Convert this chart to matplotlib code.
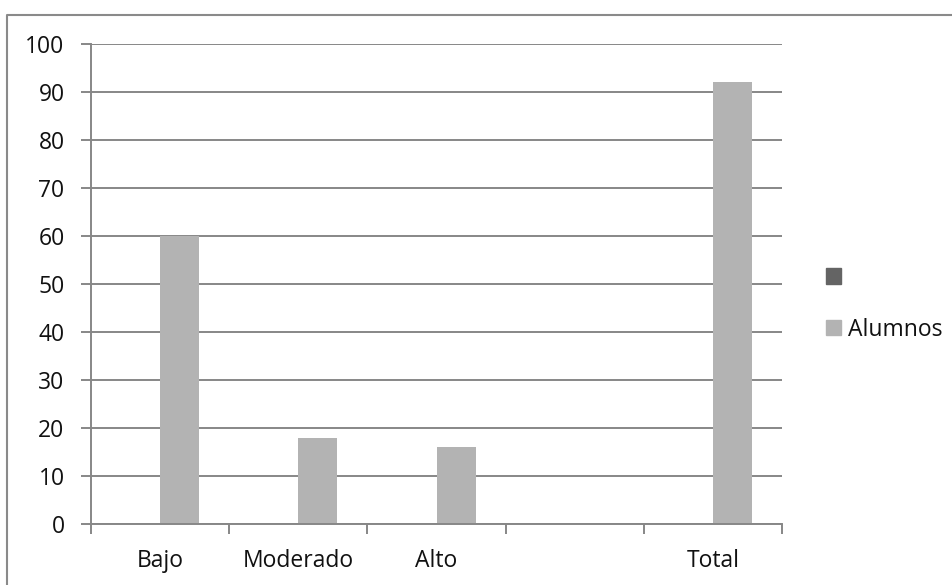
import matplotlib
matplotlib.use("Agg")
import matplotlib.pyplot as plt
import numpy as np
from matplotlib.patches import Patch
from matplotlib.lines import Line2D

plt.rcParams['font.family'] = ['Open Sans', 'DejaVu Sans']

categories = ["Bajo", "Moderado", "Alto", "", "Total"]
serie_vacia = [np.nan, np.nan, np.nan, np.nan, np.nan]
alumnos = [60, 18, 16, np.nan, 92]
y_ticks = [0, 10, 20, 30, 40, 50, 60, 70, 80, 90, 100]

W, H = 953, 585
fig = plt.figure(figsize=(W / 100, H / 100), dpi=100)
ax = fig.add_axes([91 / W, 1 - 524 / H, (782 - 91) / W, (524 - 44) / H])

grid_col = "#878787"
txt_col = "#111111"
bar_w = 39 / 138
x = np.arange(len(categories))

ax.bar(x - bar_w, serie_vacia, width=bar_w, align='edge', color="#646464")
ax.bar(x, alumnos, width=bar_w, align='edge', color="#b3b3b3")

ax.set_xlim(-0.5, len(categories) - 0.5)
ax.set_ylim(0, 100)
ax.set_yticks(y_ticks)
ax.yaxis.grid(True, color=grid_col, linewidth=1.4)
ax.set_axisbelow(True)

# category boundaries carry tick marks; names sit at slot centres
ax.set_xticks(np.arange(-0.5, len(categories)), labels=[""] * (len(categories) + 1))
ax.set_xticks(x, labels=categories, minor=True)
ax.tick_params(axis='x', which='major', length=7, width=1.4, color=grid_col, direction='out')
ax.tick_params(axis='x', which='minor', length=0, pad=18, labelsize=16.5, labelcolor=txt_col)
ax.tick_params(axis='y', length=7, width=1.4, color=grid_col, pad=12, labelsize=16.5,
               labelcolor=txt_col)

for s in ("top", "right"):
    ax.spines[s].set_visible(False)
for s in ("left", "bottom"):
    ax.spines[s].set_color(grid_col)
    ax.spines[s].set_linewidth(1.4)

handles = [Patch(color="#646464"), Patch(color="#b3b3b3")]
leg = fig.legend(handles, [" ", "Alumnos"], loc='center left',
                 bbox_to_anchor=(805 / W, 1 - 304 / H), frameon=False, fontsize=16.5,
                 handlelength=0.66, handleheight=0.66, handletextpad=0.3,
                 labelspacing=1.2)
for t in leg.get_texts():
    t.set_color(txt_col)

# chart-area border
fig.add_artist(Line2D([7 / W, 7 / W, 1.0], [0.0, 1 - 15 / H, 1 - 15 / H],
                      color="#8a8a8a", linewidth=1.5, transform=fig.transFigure))

fig.savefig("out.png", dpi=100)
